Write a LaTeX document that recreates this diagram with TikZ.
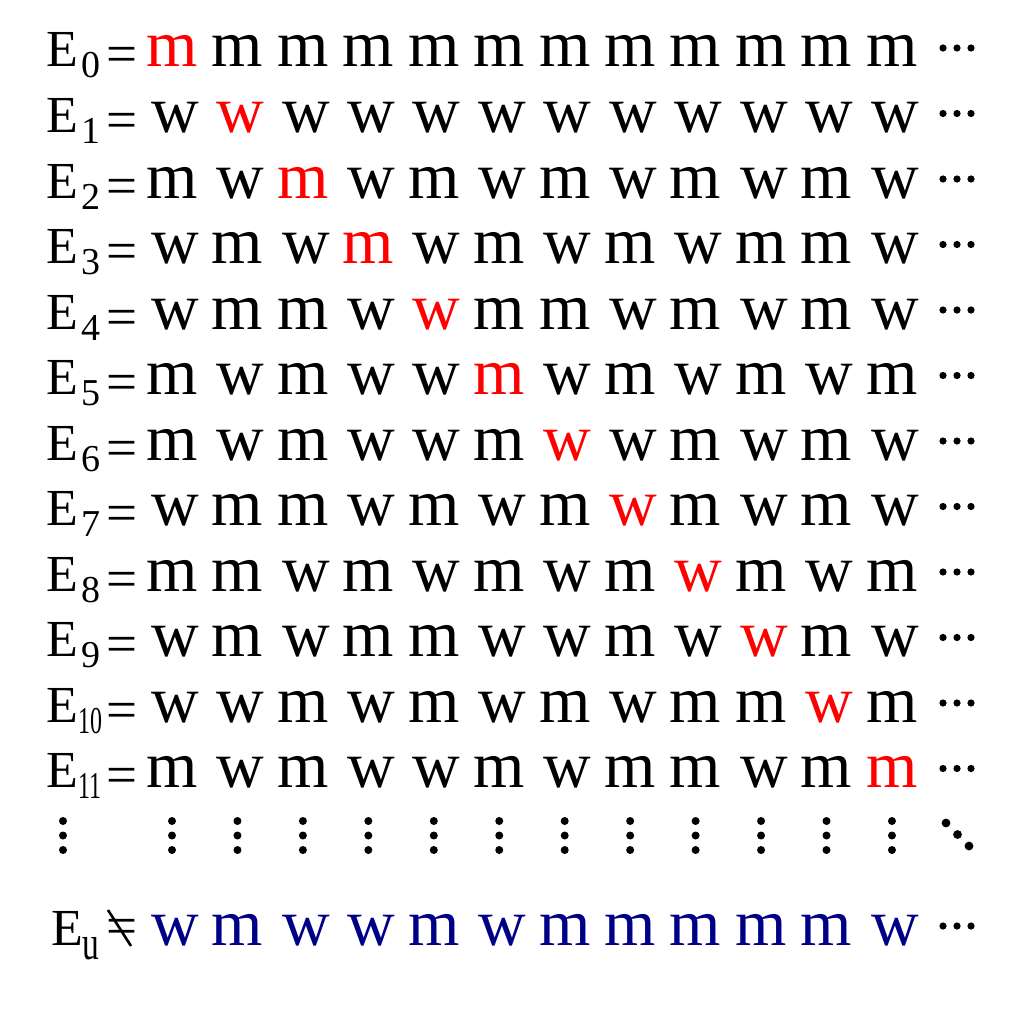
\documentclass[tikz,border=0pt]{standalone}
\usepackage{fontspec}
\usepackage{graphicx}
\setmainfont{Liberation Serif}
\definecolor{navyblue}{RGB}{0,0,135}
\begin{document}
\begin{tikzpicture}[x=1pt,y=-1pt,
  letter/.style={inner sep=0pt, anchor=base, font=\fontsize{66}{66}\selectfont},
  elabel/.style={inner sep=0pt, anchor=base west, font=\fontsize{52}{52}\selectfont},
  subs/.style={inner sep=0pt, anchor=base west, font=\fontsize{38}{38}\selectfont},
  eqs/.style={inner sep=0pt, anchor=base west, font=\fontsize{55}{55}\selectfont},
  dotmark/.style={fill=black, draw=none}]
\useasboundingbox (0,0) rectangle (1024,1014);
\foreach \row [count=\i from 0] in {
  {m,m,m,m,m,m,m,m,m,m,m,m},
  {w,w,w,w,w,w,w,w,w,w,w,w},
  {m,w,m,w,m,w,m,w,m,w,m,w},
  {w,m,w,m,w,m,w,m,w,m,m,w},
  {w,m,m,w,w,m,m,w,m,w,m,w},
  {m,w,m,w,w,m,w,m,w,m,w,m},
  {m,w,m,w,w,m,w,w,m,w,m,w},
  {w,m,m,w,m,w,m,w,m,w,m,w},
  {m,m,w,m,w,m,w,m,w,m,w,m},
  {w,m,w,m,m,w,w,m,w,w,m,w},
  {w,w,m,w,m,w,m,w,m,m,w,m},
  {m,w,m,w,w,m,w,m,m,w,m,m}} {
  \pgfmathsetmacro\b{67+65.5*\i}
  \node[elabel] (E\i) at (46,\b) {E};
  \ifnum\i<10
    \node[subs] (S\i) at (81,{\b+11}) {\i};
  \else
    \node[subs] (S\i) at (78,{\b+11}) {\scalebox{0.63}[1]{\i}};
  \fi
  \node[eqs] (Q\i) at (106,{\b+6}) {=};
  \foreach \ch [count=\j from 0] in \row {
    \ifnum\i=\j \def\col{red}\else\def\col{black}\fi
    \if w\ch \def\sh{3}\else\def\sh{0}\fi
    \node[letter,text=\col] (L\i-\j) at ({172+\sh+65.45*\j},\b) {\ch};
  }
  \foreach \dx in {943,957,971}
    \fill[dotmark] (\dx,{\b-19}) circle[radius=3.6];
}
% vertical dots
\foreach \vx in {63,172,237.45,302.9,368.35,433.8,499.25,564.7,630.15,695.6,761.05,826.5,891.95}
  \foreach \vy in {821,835.5,850}
    \fill[dotmark] (\vx,\vy) circle[radius=4];
% diagonal dots
\fill[dotmark] (946,823) circle[radius=4.4];
\fill[dotmark] (957.5,834.5) circle[radius=4.4];
\fill[dotmark] (969,846) circle[radius=4.4];
% bottom row
\node[elabel] (Eu) at (51,945) {E};
\node[subs] (Su) at (82,959) {\scalebox{0.7}[1]{\fontsize{48}{48}\selectfont u}};
\node[eqs] (Qu) at (106,944) {=};
\draw[line width=2.6pt] (108,910) -- (131,946);
\foreach \ch [count=\j from 0] in {w,m,w,w,m,w,m,m,m,m,m,w} {
  \if w\ch \def\sh{3}\else\def\sh{0}\fi
  \node[letter,text=navyblue] (U\j) at ({172+\sh+65.45*\j},945) {\ch};
}
\foreach \dx in {943,957,971}
  \fill[dotmark] (\dx,926) circle[radius=3.6];
\end{tikzpicture}
\end{document}
